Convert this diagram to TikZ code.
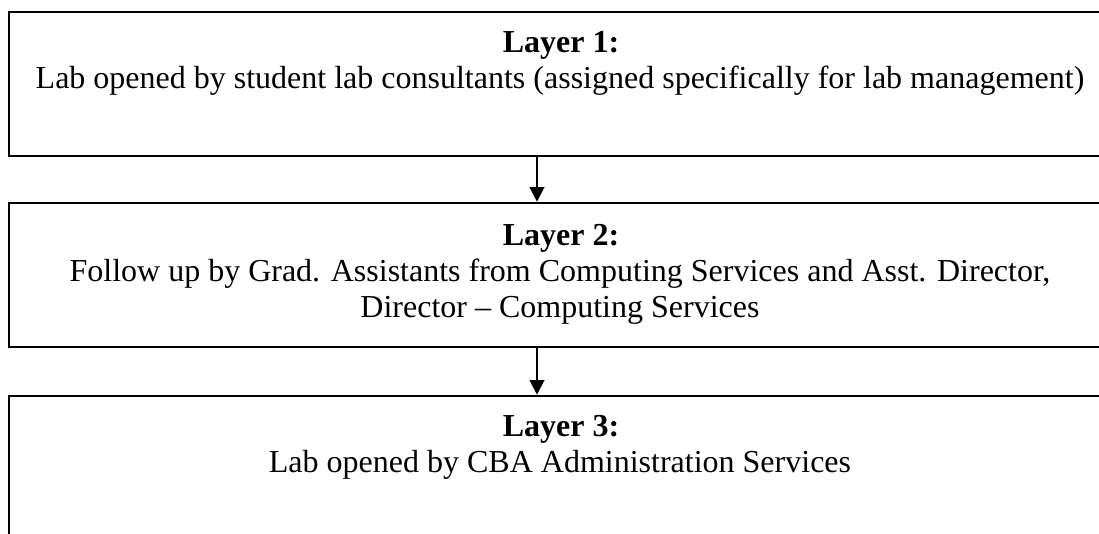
\documentclass[tikz,border=0pt]{standalone}
\usepackage{fontspec}
\setmainfont{Liberation Serif}
\usetikzlibrary{arrows.meta}
\tikzset{
  layerbox/.style={draw=black, line width=1.9pt, minimum width=826.5pt, minimum height=108pt, inner sep=0pt, fill=none},
  headtxt/.style={anchor=base, inner sep=0pt, font=\fontsize{24}{27}\selectfont\bfseries},
  bodytxt/.style={anchor=base, inner sep=0pt, font=\fontsize{24}{27}\selectfont},
  flowarrow/.style={line width=1.5pt, -{Triangle[width=11pt,length=11pt]}}
}
\begin{document}
\begin{tikzpicture}[x=0.75pt, y=-0.75pt]
\clip (0,0) rectangle (1099,533);
\fill[white] (0,0) rectangle (1099,533);
% boxes
\node[layerbox] (b1) at (560,84) {};
\node[layerbox] (b2) at (560,275) {};
\node[layerbox] (b3) at (560,468) {};
% texts
\node[headtxt] (h1) at (561,52) {Layer 1:};
\node[bodytxt] (l1) at (560,88) {Lab opened by student lab consultants (assigned specifically for lab management)};
\node[headtxt] (h2) at (561,245) {Layer 2:};
\node[bodytxt] (l2a) at (560,281) {Follow up by Grad. Assistants from Computing Services and Asst. Director,};
\node[bodytxt] (l2b) at (560,317) {Director -- Computing Services};
\node[headtxt] (h3) at (561,436) {Layer 3:};
\node[bodytxt] (l3) at (560,472) {Lab opened by CBA Administration Services};
% arrows
\coordinate (ax) at (537,0);
\draw[flowarrow] (b1.south -| ax) -- (b2.north -| ax);
\draw[flowarrow] (b2.south -| ax) -- (b3.north -| ax);
\end{tikzpicture}
\end{document}
